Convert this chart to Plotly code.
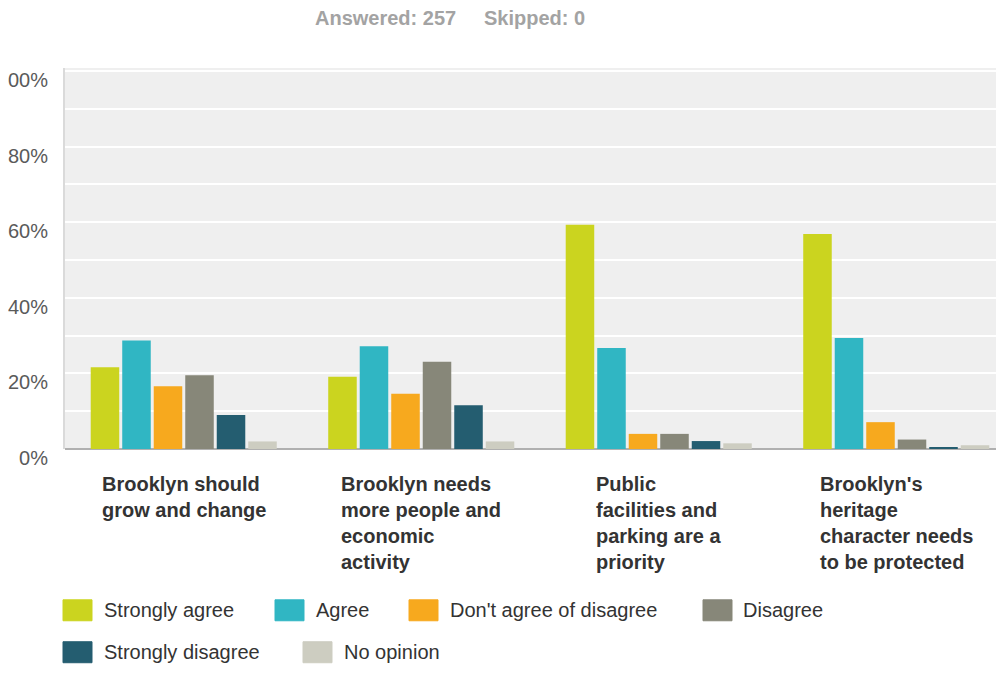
import plotly.graph_objects as go

# ---------------- data ----------------
categories = [
    "Brooklyn should grow and change",
    "Brooklyn needs more people and economic activity",
    "Public facilities and parking are a priority",
    "Brooklyn's heritage character needs to be protected",
]
category_labels = [
    "Brooklyn should<br>grow and change",
    "Brooklyn needs<br>more people and<br>economic<br>activity",
    "Public<br>facilities and<br>parking are a<br>priority",
    "Brooklyn's<br>heritage<br>character needs<br>to be protected",
]
series_names = ["Strongly agree", "Agree", "Don't agree of disagree",
                "Disagree", "Strongly disagree", "No opinion"]
strongly_agree = [21.6, 19.1, 59.3, 56.9]
agree = [28.7, 27.2, 26.7, 29.4]
neutral = [16.6, 14.6, 4.0, 7.1]
disagree = [19.5, 23.1, 4.0, 2.5]
strongly_disagree = [9.0, 11.6, 2.1, 0.5]
no_opinion = [2.0, 2.0, 1.5, 1.0]
series_values = [strongly_agree, agree, neutral, disagree, strongly_disagree, no_opinion]

tick_vals = [0, 20, 40, 60, 80, 100]
tick_text = ["0%", "20%", "40%", "60%", "80%", "100%"]
header_text = "<b>Answered: 257\u00a0\u00a0\u00a0\u00a0\u00a0Skipped: 0</b>"

# ---------------- styles / layout ----------------
colors = ["#cbd41f", "#30b6c3", "#f7a91e", "#878779", "#245d70", "#cdcdc1"]

PAGE_OFF = 8                      # body margin of the page holding the figure
W, H = 1004 - 2 * PAGE_OFF, 675 - 2 * PAGE_OFF
ML, MT = 57, 60
MB = H - 441.5
MR = 0
PW, PH = W - ML - MR, H - MT - MB
GROUP_PITCH = 237.5
x_span = PW / GROUP_PITCH


def px2paper(x, y):
    """reference-screen pixel -> paper coordinates"""
    fx, fy = x - PAGE_OFF, y - PAGE_OFF
    return (fx - ML) / PW, (H - MB - fy) / PH


fig = go.Figure()
for name, vals, col in zip(series_names, series_values, colors):
    fig.add_trace(go.Bar(x=categories, y=vals, name=name, marker_color=col,
                         marker_line_width=0, showlegend=False))

fig.update_layout(
    width=W, height=H,
    margin=dict(l=ML, r=MR, t=MT, b=MB, pad=0, autoexpand=False),
    paper_bgcolor="white", plot_bgcolor="#efefef",
    barmode="group", bargap=0.204, bargroupgap=0.095,
    font=dict(family="Liberation Sans, Arial, sans-serif", color="#333"),
)
fig.update_xaxes(range=[-0.5, -0.5 + x_span], showticklabels=False, showgrid=False,
                 zeroline=False, showline=False, ticks="", automargin=False)
fig.update_yaxes(range=[0, 100.8], tickvals=tick_vals, ticktext=tick_text,
                 tickfont=dict(size=20, color="#5a5a5a"),
                 ticklabelstandoff=11, ticklabelshift=9, automargin=False,
                 showgrid=True, gridcolor="white", gridwidth=2,
                 minor=dict(dtick=10, tick0=0, showgrid=True, gridcolor="white", gridwidth=2),
                 zeroline=True, zerolinecolor="#b0b0b0", zerolinewidth=2,
                 showline=True, linecolor="#dadada", linewidth=2, ticks="")

annotations = []
# header
hx, hy = px2paper(450, 18)
annotations.append(dict(x=hx, y=hy, xref="paper", yref="paper", text=header_text,
                        showarrow=False, xanchor="center", yanchor="middle", borderpad=0,
                        font=dict(size=20, color="#a3a3a3")))
# category labels
for cat, lab in zip(categories, category_labels):
    annotations.append(dict(x=cat, y=0, xref="x", yref="y", text="<b>" + lab + "</b>",
                            showarrow=False, xanchor="center", yanchor="top", align="left",
                            yshift=-22, font=dict(size=20, color="#333")))

# custom legend (swatch x, text x, row center y) in reference pixels
legend_pos = [(63, 103, 611), (275, 315, 611), (409, 449, 611), (703, 742, 611),
              (63, 103, 653), (303, 343, 653)]
shapes = []
for (sx, tx, cy), name, col in zip(legend_pos, series_names, colors):
    x0, y0 = px2paper(sx, cy + 10.5)
    x1, y1 = px2paper(sx + 29, cy - 10.5)
    shapes.append(dict(type="rect", xref="paper", yref="paper", x0=x0, x1=x1, y0=y0, y1=y1,
                       fillcolor=col, line=dict(color=col, width=1)))
    ax, ay = px2paper(tx, cy)
    annotations.append(dict(x=ax, y=ay, xref="paper", yref="paper", text=name,
                            showarrow=False, xanchor="left", yanchor="middle", borderpad=0,
                            font=dict(size=20, color="#333")))

fig.update_layout(annotations=annotations, shapes=shapes)
fig.write_html("out.html")
